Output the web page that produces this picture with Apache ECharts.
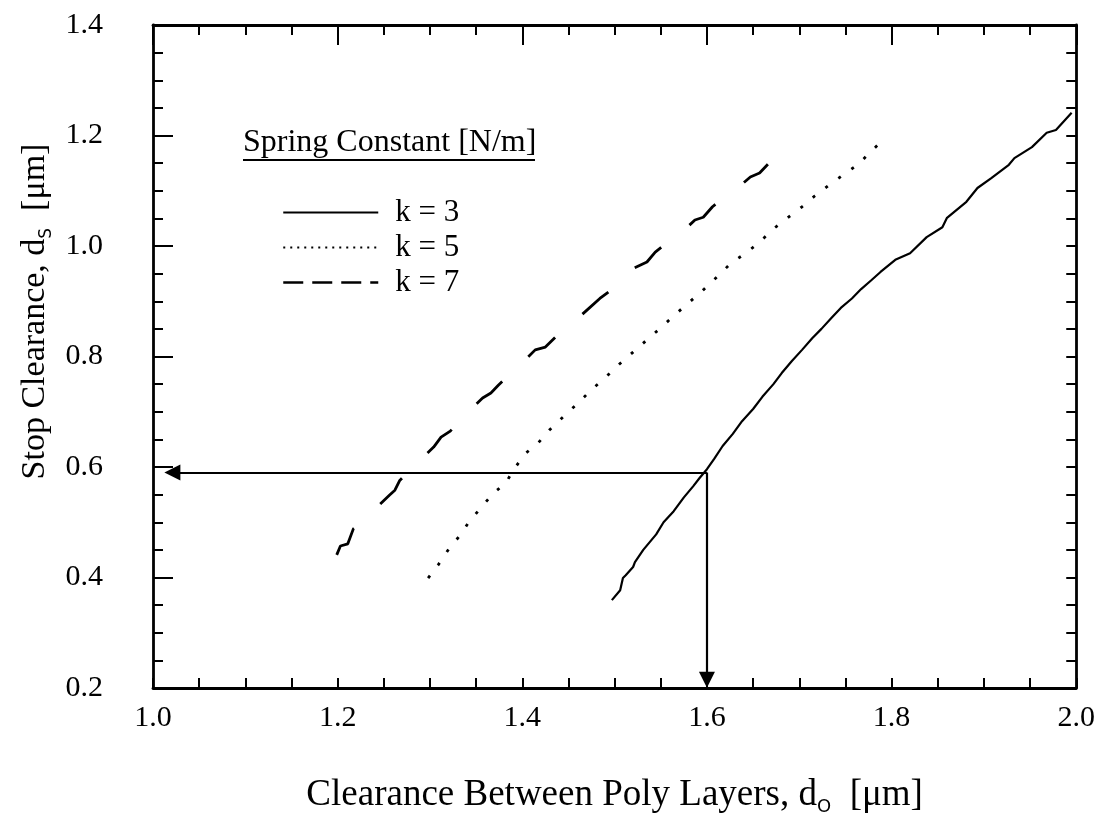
<!DOCTYPE html>
<html>
<head>
<meta charset="utf-8">
<title>Stop Clearance vs Clearance Between Poly Layers</title>
<script src="https://cdn.jsdelivr.net/npm/echarts@6/dist/echarts.min.js"></script>
<style>
  html, body { margin: 0; padding: 0; background: #fff; }
  #chart { width: 1098px; height: 826px; }
</style>
</head>
<body>
<div id="chart"></div>
<script>
// values
var seriesNames = ['k = 3', 'k = 5', 'k = 7']
var xTicks = [1.0, 1.2, 1.4, 1.6, 1.8, 2.0]
var yTicks = [0.2, 0.4, 0.6, 0.8, 1.0, 1.2, 1.4]

// k = 3 (solid)
var k3X = [1.497, 1.506, 1.509, 1.512, 1.520, 1.522, 1.531, 1.545, 1.553, 1.564, 1.575, 1.585, 1.592, 1.600, 1.608, 1.617, 1.628, 1.638, 1.650, 1.660, 1.672, 1.681, 1.692, 1.703, 1.714, 1.724, 1.735, 1.745, 1.757, 1.767, 1.778, 1.788, 1.804, 1.820, 1.838, 1.855, 1.860, 1.881, 1.893, 1.908, 1.927, 1.933, 1.952, 1.968, 1.978, 1.995]
var k3Y = [0.359, 0.377, 0.399, 0.404, 0.419, 0.428, 0.450, 0.478, 0.500, 0.520, 0.545, 0.565, 0.580, 0.596, 0.615, 0.638, 0.660, 0.683, 0.705, 0.727, 0.750, 0.770, 0.792, 0.812, 0.833, 0.850, 0.870, 0.888, 0.905, 0.922, 0.938, 0.953, 0.975, 0.987, 1.016, 1.034, 1.051, 1.080, 1.105, 1.123, 1.147, 1.159, 1.179, 1.205, 1.210, 1.241]

// k = 5 (dotted)
var k5X = [1.298, 1.309, 1.321, 1.332, 1.342, 1.355, 1.369, 1.382, 1.391, 1.403, 1.417, 1.430, 1.445, 1.460, 1.475, 1.490, 1.505, 1.520, 1.535, 1.550, 1.565, 1.580, 1.597, 1.614, 1.626, 1.642, 1.657, 1.672, 1.688, 1.703, 1.717, 1.732, 1.748, 1.764, 1.774, 1.787]
var k5Y = [0.399, 0.423, 0.453, 0.475, 0.500, 0.526, 0.553, 0.571, 0.596, 0.624, 0.643, 0.668, 0.692, 0.715, 0.740, 0.762, 0.786, 0.808, 0.830, 0.852, 0.875, 0.897, 0.922, 0.949, 0.969, 0.987, 1.007, 1.031, 1.052, 1.071, 1.091, 1.110, 1.129, 1.148, 1.165, 1.186]

// k = 7 (dashed)
var k7X = [1.199, 1.203, 1.211, 1.217, 1.230, 1.246, 1.256, 1.262, 1.267, 1.280, 1.294, 1.304, 1.312, 1.322, 1.335, 1.347, 1.357, 1.366, 1.374, 1.388, 1.402, 1.414, 1.425, 1.440, 1.458, 1.470, 1.484, 1.500, 1.510, 1.521, 1.535, 1.544, 1.560, 1.578, 1.587, 1.596, 1.606, 1.620, 1.636, 1.647, 1.657, 1.666]
var k7Y = [0.441, 0.457, 0.461, 0.488, 0.505, 0.533, 0.549, 0.558, 0.575, 0.597, 0.620, 0.636, 0.654, 0.665, 0.688, 0.709, 0.725, 0.734, 0.748, 0.770, 0.792, 0.812, 0.817, 0.842, 0.866, 0.884, 0.905, 0.925, 0.942, 0.960, 0.971, 0.989, 1.010, 1.033, 1.047, 1.052, 1.071, 1.090, 1.109, 1.125, 1.132, 1.148]

// reading arrows: corner and the two tips
var arrowCorner = [1.6, 0.59]
var arrowLeftTip = [1.021, 0.59]
var arrowDownTip = [1.6, 0.215]

var FONT = '"Liberation Serif", "DejaVu Serif", serif'

function pairs(xs, ys) {
  return xs.map(function(x, i) { return [x, ys[i]] })
}

var chart = echarts.init(document.getElementById('chart'))

var axisLine = { show: true, onZero: false, lineStyle: { color: '#000', width: 2.8 } }

function tickLabel(margin, show) {
  return {
    show: show,
    margin: margin,
    color: '#000',
    fontFamily: FONT,
    fontSize: 30,
    formatter: function(v) { return v.toFixed(1) }
  }
}

function axisDef(ticks, pos, majorLen, label) {
  return {
    type: 'value',
    position: pos,
    min: ticks[0],
    max: ticks[ticks.length - 1],
    interval: 0.2,
    axisLine: axisLine,
    axisTick: { show: true, inside: true, length: majorLen, lineStyle: { color: '#000', width: 2 } },
    minorTick: { show: true, splitNumber: 4, length: 10, lineStyle: { color: '#000', width: 2 } },
    splitLine: { show: false },
    axisLabel: label
  }
}

var xBottom = axisDef(xTicks, 'bottom', 10, tickLabel(15, true))
xBottom.name = 'Clearance Between Poly Layers, d{sub|O}  [\u03bcm]'
xBottom.nameLocation = 'middle'
xBottom.nameGap = 86
xBottom.nameTextStyle = {
  color: '#000', fontFamily: FONT, fontSize: 37,
  rich: { sub: { fontFamily: '"DejaVu Sans", sans-serif', fontSize: 18, padding: [24, 0, 0, 0], color: '#000' } }
}

var yLeft = axisDef(yTicks, 'left', 20, tickLabel(50, true))
yLeft.name = 'Stop Clearance, d{sub|S}  [\u03bcm]'
yLeft.nameLocation = 'middle'
yLeft.nameRotate = 90
yLeft.nameGap = 95
yLeft.nameTextStyle = {
  color: '#000', fontFamily: FONT, fontSize: 34,
  padding: [0, 0, 0, 90],
  rich: { sub: { fontFamily: '"DejaVu Sans", sans-serif', fontSize: 17, padding: [22, 0, 0, 0], color: '#000' } }
}

chart.setOption({
  backgroundColor: '#fff',
  animation: false,
  grid: { left: 153, right: 10, top: 25, bottom: 138, containLabel: false },
  legend: {
    data: [
      { name: 'k = 3' },
      { name: 'k = 5', lineStyle: { type: [2, 5], width: 2 } },
      { name: 'k = 7', lineStyle: { type: [20, 9], width: 2.5 } }
    ],
    orient: 'vertical',
    left: 277,
    top: 192,
    itemWidth: 95,
    itemHeight: 14,
    itemGap: 4,
    itemStyle: { opacity: 0 },
    textStyle: { color: '#000', fontFamily: FONT, fontSize: 31, padding: [0, 0, 0, 12] }
  },
  graphic: [
    {
      type: 'text',
      left: 243,
      top: 127,
      style: { text: 'Spring Constant [N/m]', fill: '#000', font: '32px ' + FONT }
    },
    {
      type: 'line',
      shape: { x1: 243, y1: 160, x2: 535, y2: 160 },
      style: { stroke: '#000', lineWidth: 2 }
    }
  ],
  xAxis: [xBottom, axisDef(xTicks, 'top', 20, { show: false })],
  yAxis: [yLeft, axisDef(yTicks, 'right', 10, { show: false })],
  series: [
    {
      name: seriesNames[0],
      type: 'line',
      data: pairs(k3X, k3Y),
      symbol: 'none',
      lineStyle: { color: '#000', width: 2.2, type: 'solid' },
      itemStyle: { color: '#000' }
    },
    {
      name: seriesNames[1],
      type: 'line',
      data: pairs(k5X, k5Y),
      symbol: 'none',
      lineStyle: { color: '#000', width: 2.8, type: [3, 13] },
      itemStyle: { color: '#000' }
    },
    {
      name: seriesNames[2],
      type: 'line',
      data: pairs(k7X, k7Y),
      symbol: 'none',
      lineStyle: { color: '#000', width: 2.8, type: [34, 36] },
      itemStyle: { color: '#000' }
    },
    {
      name: 'guide',
      type: 'lines',
      coordinateSystem: 'cartesian2d',
      symbol: ['none', 'triangle'],
      symbolSize: [13, 16],
      lineStyle: { color: '#000', width: 2.2, opacity: 1 },
      itemStyle: { color: '#000' },
      data: [
        { coords: [arrowCorner, arrowLeftTip] },
        { coords: [arrowCorner, arrowDownTip] }
      ],
      z: 5
    }
  ]
})
</script>
</body>
</html>
